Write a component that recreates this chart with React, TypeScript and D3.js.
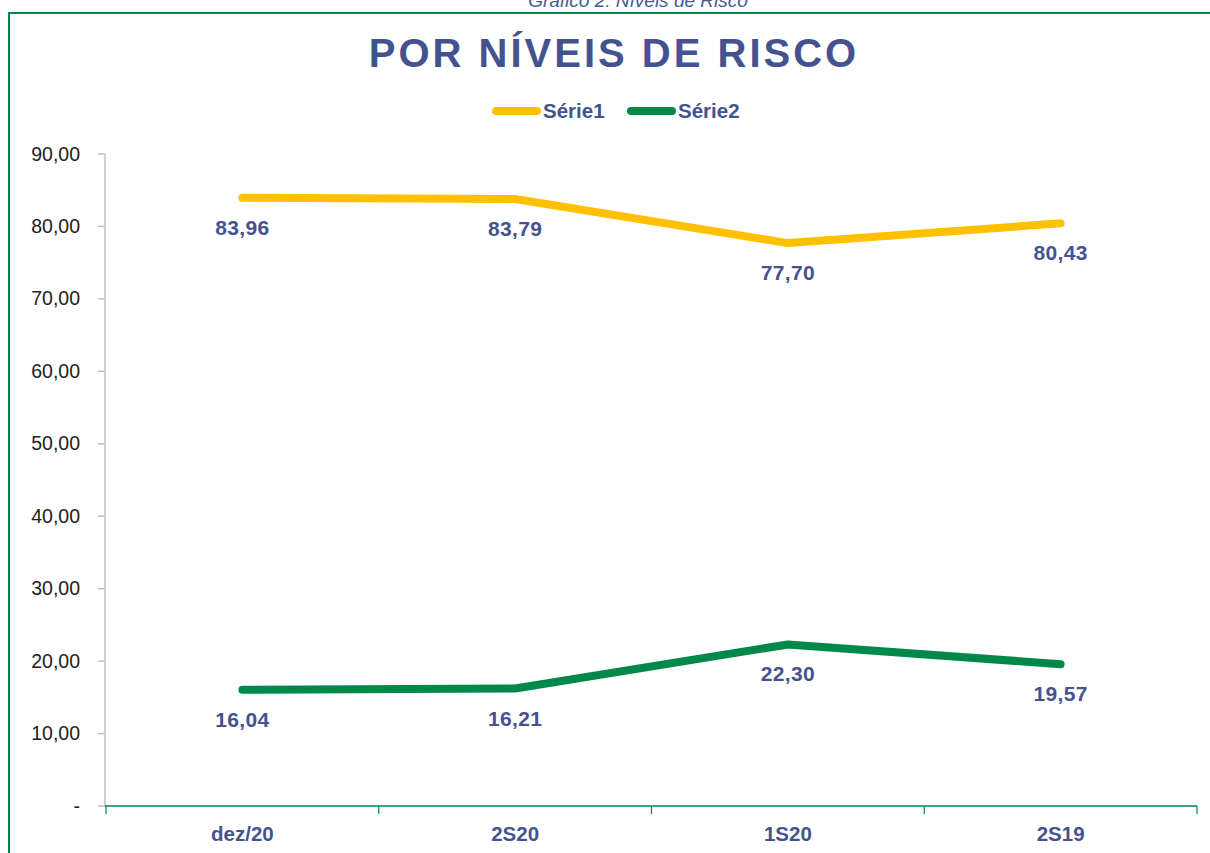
import React from "react";
import * as d3 from "d3";

const categories = ["dez/20", "2S20", "1S20", "2S19"];
const serie1 = [83.96, 83.79, 77.7, 80.43];
const serie2 = [16.04, 16.21, 22.3, 19.57];
const seriesNames = ["Série1", "Série2"];
const yTicks = [0, 10, 20, 30, 40, 50, 60, 70, 80, 90];

const W = 1210;
const H = 853;
const BLUE = "#44538f";
const YELLOW = "#FFC000";
const GREEN = "#00884B";

export default function App() {
  const x = d3.scaleBand<string>().domain(categories).range([106, 1197]);
  const y = d3.scaleLinear().domain([0, 90]).range([806, 154]);
  const cx = (c: string) => (x(c) ?? 0) + x.bandwidth() / 2;
  const line = d3
    .line<number>()
    .x((_, i) => cx(categories[i]))
    .y((d) => y(d));
  const fmt = (v: number) => v.toFixed(2).replace(".", ",");
  const series = [
    { name: seriesNames[0], values: serie1, color: YELLOW },
    { name: seriesNames[1], values: serie2, color: GREEN },
  ];
  const bounds = [...categories.map((c) => x(c) ?? 0), 1197];

  return (
    <svg
      width={W}
      height={H}
      style={{ position: "absolute", left: 0, top: 0, background: "#fff" }}
      fontFamily="'Liberation Sans', Arial, sans-serif"
    >
      <text x={638} y={7} textAnchor="middle" fontSize={19} fontStyle="italic" fill="#4a5a8f">
        Gráfico 2: Níveis de Risco
      </text>
      <rect x={9} y={13} width={1220} height={860} fill="none" stroke={GREEN} strokeWidth={2} />
      <text
        x={614}
        y={67}
        textAnchor="middle"
        fontSize={40}
        fontWeight="bold"
        letterSpacing={3}
        fill={BLUE}
      >
        POR NÍVEIS DE RISCO
      </text>
      {/* legend */}
      {series.map((s, i) => {
        const lx = i === 0 ? 496 : 631;
        return (
          <g key={s.name}>
            <line x1={lx} x2={lx + 41} y1={111} y2={111} stroke={s.color} strokeWidth={8} strokeLinecap="round" />
            <text x={lx + 47} y={118} fontSize={20.5} fontWeight="bold" fill={BLUE}>
              {s.name}
            </text>
          </g>
        );
      })}
      {/* y axis */}
      <line x1={105} x2={105} y1={y(90)} y2={y(0)} stroke="#bfbfbf" strokeWidth={1.5} />
      {yTicks.map((t) => (
        <g key={t}>
          <line x1={98} x2={105} y1={y(t)} y2={y(t)} stroke="#bfbfbf" strokeWidth={1.5} />
          <text x={80} y={y(t) + 6.5} textAnchor="end" fontSize={19.5} fill="#222">
            {t === 0 ? "-" : fmt(t)}
          </text>
        </g>
      ))}
      {/* x axis */}
      <line x1={105} x2={1197} y1={y(0)} y2={y(0)} stroke={GREEN} strokeWidth={1.5} />
      {bounds.map((b, i) => (
        <line key={i} x1={b} x2={b} y1={y(0)} y2={y(0) + 8} stroke={GREEN} strokeWidth={1.2} />
      ))}
      {categories.map((c) => (
        <text key={c} x={cx(c)} y={841} textAnchor="middle" fontSize={20.5} fontWeight="bold" fill={BLUE}>
          {c}
        </text>
      ))}
      {/* lines */}
      {series.map((s) => (
        <path
          key={s.name}
          d={line(s.values) ?? ""}
          fill="none"
          stroke={s.color}
          strokeWidth={8}
          strokeLinecap="round"
          strokeLinejoin="round"
        />
      ))}
      {/* data labels */}
      {series.map((s) =>
        s.values.map((v, i) => (
          <text
            key={s.name + i}
            x={cx(categories[i])}
            y={y(v) + 37}
            textAnchor="middle"
            fontSize={21}
            fontWeight="bold"
            fill={BLUE}
            letterSpacing={0.3}
          >
            {fmt(v)}
          </text>
        ))
      )}
    </svg>
  );
}
